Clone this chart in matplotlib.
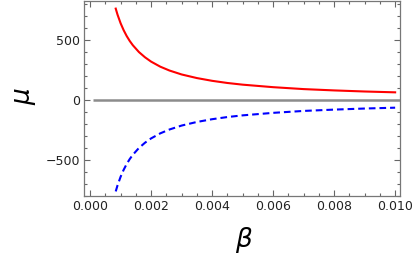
import matplotlib
matplotlib.use("Agg")
from matplotlib import pyplot as plt
from matplotlib.ticker import MultipleLocator, FormatStrFormatter

# values
beta = [0.00084, 0.0009, 0.001, 0.0011, 0.0012, 0.0013, 0.0014, 0.0016, 0.0018,
        0.002, 0.0023, 0.0026, 0.003, 0.0035, 0.004, 0.0045, 0.005, 0.006,
        0.007, 0.008, 0.009, 0.01]
mu_upper = [762, 711, 640, 582, 533, 492, 457, 400, 356,
            320, 278, 246, 213, 183, 160, 142, 128, 107,
            91, 80, 71, 64]
mu_lower = [-762, -711, -640, -582, -533, -492, -457, -400, -356,
            -320, -278, -246, -213, -183, -160, -142, -128, -107,
            -91, -80, -71, -64]
beta_zero = [0.0001, 0.0102]
mu_zero = [0, 0]

fig = plt.figure(figsize=(4.15, 2.62), dpi=100)
ax = fig.add_axes([0.2024, 0.252, 0.7615, 0.744])

ax.plot(beta_zero, mu_zero, color='#8c8c8c', lw=1.8, solid_capstyle='butt')
ax.plot(beta, mu_upper, color='#ff0000', lw=1.5)
ax.plot(beta, mu_lower, color='#0000ff', lw=1.5, dashes=(3.2, 1.9))

ax.set_xlim(-0.0002, 0.01016)
ax.set_ylim(-800, 825)

ax.xaxis.set_major_locator(MultipleLocator(0.002))
ax.xaxis.set_minor_locator(MultipleLocator(0.0005))
ax.xaxis.set_major_formatter(FormatStrFormatter('%.3f'))
ax.yaxis.set_major_locator(MultipleLocator(500))
ax.yaxis.set_minor_locator(MultipleLocator(100))

ax.tick_params(which='both', direction='in', top=True, right=True,
               color='#666666', labelsize=9, labelcolor='#222222', width=0.8)
ax.tick_params(which='major', length=4.5, pad=3)
ax.tick_params(which='minor', length=2.5)
for s in ax.spines.values():
    s.set_color('#777777')
    s.set_linewidth(0.9)

# axis labels placed in figure pixels
fig.text(244 / 415, 1 - 240 / 262, r'$\beta$', fontsize=19, ha='center', va='center')
fig.text(25 / 415, 1 - 96 / 262, r'$\mu$', fontsize=19, ha='center', va='center',
         rotation=90)

fig.savefig('out.png', dpi=100)
